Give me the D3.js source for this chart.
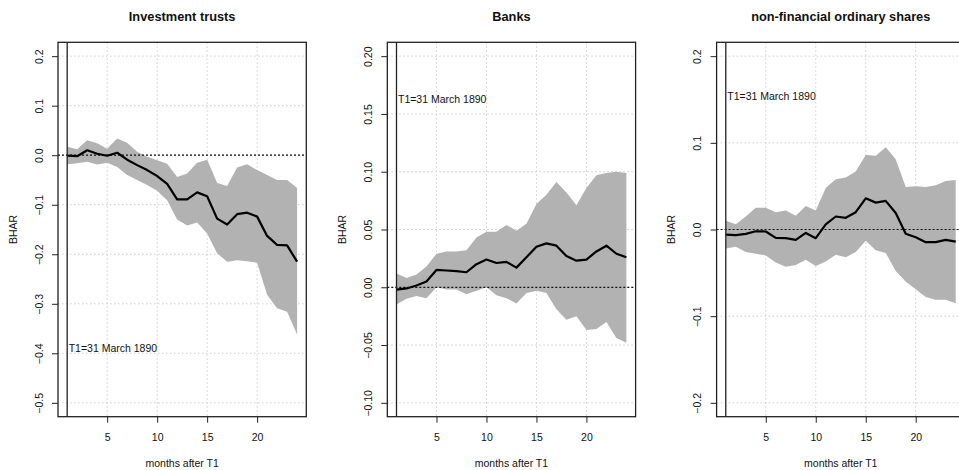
<!DOCTYPE html>
<html>
<head>
<meta charset="utf-8">
<script src="https://cdn.jsdelivr.net/npm/d3@7"></script>
<style>
  body { margin: 0; background: #fff; }
  text { font-family: "Liberation Sans", Arial, Helvetica, sans-serif; fill: #111; }
</style>
</head>
<body>
<div class="usable"></div>
<script>
// months after T1
const months = d3.range(1, 25)
const xTicks = [5, 10, 15, 20]

const titles = ["Investment trusts", "Banks", "non-financial ordinary shares"]
const yLimits = [[-0.5, 0.2], [-0.1, 0.2], [-0.2, 0.2]]
const yTicks = [
    [-0.5, -0.4, -0.3, -0.2, -0.1, 0, 0.1, 0.2],
    [-0.1, -0.05, 0, 0.05, 0.1, 0.15, 0.2],
    [-0.2, -0.1, 0, 0.1, 0.2]
]
const yDecimals = [1, 2, 1]
const noteText = "T1=31 March 1890"
const noteY = [-0.39, 0.163, 0.154]

// investment trusts
const trustMean = [-0.001, -0.002, 0.010, 0.003, -0.001, 0.005, -0.009, -0.020, -0.030, -0.042, -0.058, -0.089,
    -0.089, -0.075, -0.083, -0.128, -0.140, -0.119, -0.116, -0.124, -0.163, -0.181, -0.182, -0.215]
const trustUpper = [0.017, 0.012, 0.030, 0.024, 0.013, 0.034, 0.025, 0.007, -0.003, -0.010, -0.017, -0.044,
    -0.037, -0.015, -0.009, -0.056, -0.062, -0.025, -0.018, -0.030, -0.040, -0.050, -0.050, -0.066]
const trustLower = [-0.018, -0.016, -0.013, -0.019, -0.015, -0.024, -0.040, -0.050, -0.060, -0.072, -0.091, -0.130,
    -0.142, -0.136, -0.158, -0.198, -0.215, -0.212, -0.214, -0.217, -0.282, -0.309, -0.316, -0.362]

// banks
const bankMean = [-0.002, -0.001, 0.0015, 0.005, 0.015, 0.0145, 0.014, 0.013, 0.020, 0.024, 0.021, 0.022,
    0.017, 0.026, 0.035, 0.038, 0.036, 0.027, 0.023, 0.024, 0.031, 0.036, 0.029, 0.026]
const bankUpper = [0.012, 0.008, 0.011, 0.018, 0.029, 0.031, 0.031, 0.032, 0.043, 0.048, 0.048, 0.054,
    0.049, 0.055, 0.072, 0.080, 0.091, 0.082, 0.071, 0.086, 0.097, 0.099, 0.100, 0.099]
const bankLower = [-0.015, -0.010, -0.0075, -0.0095, 0, -0.002, -0.002, -0.006, -0.003, 0, -0.007, -0.0095,
    -0.014, -0.005, -0.003, -0.005, -0.019, -0.028, -0.025, -0.037, -0.036, -0.030, -0.044, -0.048]

// non-financial ordinary shares
const otherMean = [-0.006, -0.0065, -0.005, -0.002, -0.0023, -0.0096, -0.010, -0.012, -0.004, -0.010, 0.006, 0.015,
    0.0135, 0.020, 0.036, 0.031, 0.033, 0.019, -0.005, -0.009, -0.0146, -0.0146, -0.012, -0.014]
const otherUpper = [0.010, 0.006, 0.015, 0.025, 0.025, 0.020, 0.022, 0.016, 0.027, 0.022, 0.048, 0.058,
    0.060, 0.067, 0.086, 0.085, 0.095, 0.081, 0.049, 0.050, 0.049, 0.051, 0.056, 0.057]
const otherLower = [-0.022, -0.020, -0.026, -0.028, -0.030, -0.038, -0.043, -0.041, -0.035, -0.042, -0.037, -0.029,
    -0.032, -0.026, -0.013, -0.024, -0.027, -0.048, -0.060, -0.069, -0.078, -0.081, -0.081, -0.085]

const means = [trustMean, bankMean, otherMean]
const uppers = [trustUpper, bankUpper, otherUpper]
const lowers = [trustLower, bankLower, otherLower]

const panelW = 329.3
const margin = { top: 42.3, right: 23, bottom: 53.3, left: 58 }
const width = panelW - margin.left - margin.right
const height = 470 - margin.top - margin.bottom

// R style 4% padding on the data range
function pad(lim) {
    const d = (lim[1] - lim[0]) * 0.04
    return [lim[0] - d, lim[1] + d]
}

let svg = d3.select(".usable").append("svg")
    .attr("width", 959)
    .attr("height", 470)

titles.forEach((title, i) => {
    const g = svg.append("g")
        .attr("transform", `translate(${i * panelW + margin.left},${margin.top})`)

    const x = d3.scaleLinear().domain(pad([1, 24])).range([0, width])
    const y = d3.scaleLinear().domain(pad(yLimits[i])).range([height, 0])

    // grid
    g.append("g").selectAll("line").data(xTicks).join("line")
        .attr("x1", d => x(d)).attr("x2", d => x(d))
        .attr("y1", 0).attr("y2", height)
        .attr("stroke", "#cfcfcf").attr("stroke-dasharray", "1.5,2.5")
    g.append("g").selectAll("line").data(yTicks[i]).join("line")
        .attr("x1", 0).attr("x2", width)
        .attr("y1", d => y(d)).attr("y2", d => y(d))
        .attr("stroke", "#cfcfcf").attr("stroke-dasharray", "1.5,2.5")

    // confidence band
    const band = d3.area()
        .x((d, k) => x(months[k]))
        .y0((d, k) => y(lowers[i][k]))
        .y1((d, k) => y(uppers[i][k]))
    g.append("path").datum(months)
        .attr("d", band)
        .attr("fill", "#b2b2b2")

    // zero line
    g.append("line")
        .attr("x1", 0).attr("x2", width)
        .attr("y1", y(0)).attr("y2", y(0))
        .attr("stroke", "#111").attr("stroke-width", 1.2)
        .attr("stroke-dasharray", "2,2")

    // mean BHAR
    const line = d3.line()
        .x((d, k) => x(months[k]))
        .y(d => y(d))
    g.append("path").datum(means[i])
        .attr("d", line)
        .attr("fill", "none")
        .attr("stroke", "#000")
        .attr("stroke-width", 2.2)
        .attr("stroke-linejoin", "round")

    // T1 marker
    g.append("line")
        .attr("x1", x(1)).attr("x2", x(1))
        .attr("y1", 0).attr("y2", height)
        .attr("stroke", "#222").attr("stroke-width", 1.3)
    g.append("text")
        .attr("x", x(1) + 1.5)
        .attr("y", y(noteY[i]))
        .attr("dy", "0.35em")
        .style("font-size", "10.5px")
        .text(noteText)

    // axes
    const xAxis = g.append("g")
        .attr("transform", `translate(0,${height})`)
        .call(d3.axisBottom(x).tickValues(xTicks).tickSize(6).tickPadding(11.3))
    xAxis.select(".domain").remove()
    xAxis.selectAll("line").attr("stroke", "#222")
    xAxis.selectAll("text").style("font-size", "10.5px").attr("fill", "#111")

    const yAxis = g.append("g")
        .call(d3.axisLeft(y).tickValues(yTicks[i]).tickSize(6)
            .tickFormat(d3.format(`.${yDecimals[i]}f`)))
    yAxis.select(".domain").remove()
    yAxis.selectAll("line").attr("stroke", "#222")
    yAxis.selectAll("text")
        .attr("x", 0).attr("y", -15.3).attr("dy", null)
        .attr("transform", "rotate(-90)")
        .attr("text-anchor", "middle")
        .attr("fill", "#111")
        .style("font-size", "10.5px")

    // box
    g.append("rect")
        .attr("width", width).attr("height", height)
        .attr("fill", "none").attr("stroke", "#222").attr("stroke-width", 1.3)

    // labels
    g.append("text")
        .attr("x", width / 2).attr("y", -21)
        .attr("text-anchor", "middle")
        .style("font-size", "12.8px").style("font-weight", "bold")
        .text(title)
    g.append("text")
        .attr("x", width / 2).attr("y", height + 50.5)
        .attr("text-anchor", "middle")
        .style("font-size", "10.5px")
        .text("months after T1")
    g.append("text")
        .attr("transform", `translate(-41.3,${height / 2}) rotate(-90)`)
        .attr("text-anchor", "middle")
        .style("font-size", "10.5px")
        .text("BHAR")
})
</script>
</body>
</html>
